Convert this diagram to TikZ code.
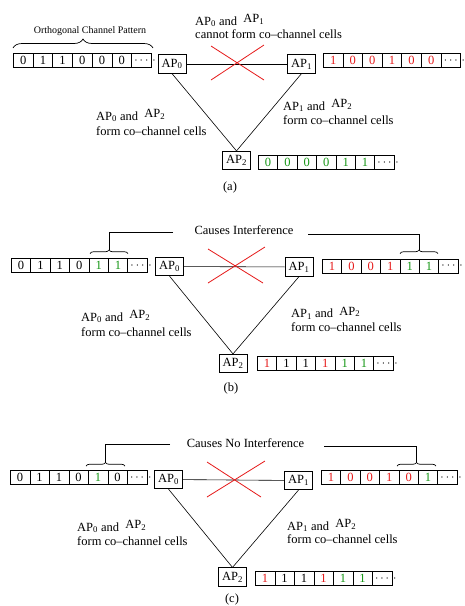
\documentclass[tikz,border=0pt]{standalone}
\usepackage{fontspec}
\setmainfont{Liberation Serif}
\usetikzlibrary{decorations.pathreplacing}
\definecolor{cred}{RGB}{230,25,25}
\definecolor{cgreen}{RGB}{20,150,20}
% name, x0, y centre, cell width, list colour/digit
\newcommand\cellrow[5]{%
  \foreach \cc/\dd [count=\ii from 0] in {#5} {
    \node[cell, minimum width=#4pt, text=\cc] (#1-\ii) at ({#2+\ii*#4}, #3) {\dd};
  }
  \node[cell, minimum width=#4pt] (#1-6) at ({#2+6*#4}, #3) {$\cdots$};
  \node[anchor=west, inner sep=0.6pt] (#1-t) at (#1-6.east) {$\cdot$};
}
\newcommand\apx[1]{AP\textsubscript{#1}}
\begin{document}
\begin{tikzpicture}[x=1pt,y=-1pt,
  every node/.style={font=\fontsize{12.5}{14}\selectfont},
  cell/.style={draw, line width=0.7pt, minimum height=14pt, inner sep=0pt, anchor=west},
  ap/.style={draw, line width=0.7pt, minimum width=28pt, minimum height=18.5pt, inner sep=1pt},
  lbl/.style={anchor=base west, inner sep=0pt},
  captxt/.style={anchor=base, inner sep=0pt},
  link/.style={line width=0.6pt},
  cross/.style={cred, line width=0.8pt},
  br/.style={decorate, decoration={brace, amplitude=#1}, line width=0.7pt},
  bracket/.style={line width=0.7pt}
]
\fill[white] (0,0) rectangle (464,606);
\useasboundingbox (0,0) rectangle (464,606);

%% ---------------- (a) ----------------
\node[captxt, font=\fontsize{10}{12}\selectfont] (a-ocp) at (90,33) {Orthogonal Channel Pattern};
\draw[br=9pt] (13,48) -- (153,48);
\cellrow{a-r0}{13}{60.5}{19.7}{black/0,black/1,black/1,black/0,black/0,black/0}
\cellrow{a-r1}{323}{60.5}{19.6}{cred/1,cred/0,cred/0,cred/1,cred/0,cred/0}
\cellrow{a-r2}{258}{162.5}{19.4}{cgreen/0,cgreen/0,cgreen/0,cgreen/0,cgreen/1,cgreen/1}
\node[ap] (a-ap0) at (172,64) {\apx{0}};
\node[ap] (a-ap1) at (301.5,64) {\apx{1}};
\node[ap] (a-ap2) at (236.5,160.5) {\apx{2}};
\draw[link] (a-ap0) -- (a-ap1);
\draw[link] (a-ap0.south) -- (a-ap2.north);
\draw[link] (a-ap1.south) -- (a-ap2.north);
\draw[cross] (211,46) -- (264,80) (211,80) -- (264,45);
\node[lbl] (a-t1) at (195,25) {\apx{0} and\hspace{3pt} \raisebox{2.5pt}{\apx{1}}};
\node[lbl] (a-t2) at (195,38.5) {cannot form co--channel cells};
\node[lbl] (a-l1) at (96,120) {\apx{0} and\hspace{3pt} \raisebox{2.5pt}{\apx{2}}};
\node[lbl] (a-l2) at (96,135) {form co--channel cells};
\node[lbl] (a-r1t) at (283,110) {\apx{1} and\hspace{3pt} \raisebox{2.5pt}{\apx{2}}};
\node[lbl] (a-r2t) at (283,124.5) {form co--channel cells};
\node[captxt] (a-cap) at (230,190.5) {(a)};

%% ---------------- (b) ----------------
\node[captxt] (b-txt) at (244,234.5) {Causes Interference};
\cellrow{b-r0}{11}{265.5}{19.4}{black/0,black/1,black/1,black/0,cgreen/1,cgreen/1}
\cellrow{b-r1}{322}{266}{19.4}{cred/1,cred/0,cred/0,cred/1,cgreen/1,cgreen/1}
\cellrow{b-r2}{257}{363.5}{19.4}{cred/1,black/1,black/1,cred/1,cgreen/1,cgreen/1}
\node[ap] (b-ap0) at (169.5,266.5) {\apx{0}};
\node[ap] (b-ap1) at (299,267) {\apx{1}};
\node[ap] (b-ap2) at (233,363.5) {\apx{2}};
\draw[link] (b-ap0) -- (b-ap1);
\draw[link] (b-ap0.south) -- (b-ap2.north);
\draw[link] (b-ap1.south) -- (b-ap2.north);
\draw[cross] (208,249) -- (263,283) (208,283) -- (265,247);
\coordinate (b-hl) at (173,232);
\coordinate (b-bl) at (109,250);
\coordinate (b-hr) at (308,234);
\coordinate (b-br) at (419,250);
\draw[bracket] (b-hl) -| (b-bl);
\draw[bracket] (b-hr) -| (b-br);
\draw[br=3.5pt] (90,253.5) -- (128,253.5);
\draw[br=3.5pt] (400,253.5) -- (438,253.5);
\node[lbl] (b-l1) at (81,321) {\apx{0} and\hspace{3pt} \raisebox{2.5pt}{\apx{2}}};
\node[lbl] (b-l2) at (81,336.5) {form co--channel cells};
\node[lbl] (b-r1t) at (291,317.5) {\apx{1} and\hspace{3pt} \raisebox{2.5pt}{\apx{2}}};
\node[lbl] (b-r2t) at (291,331) {form co--channel cells};
\node[captxt] (b-cap) at (231,391.5) {(b)};

%% ---------------- (c) ----------------
\node[captxt] (c-txt) at (245.5,447.5) {Causes No Interference};
\cellrow{c-r0}{10}{477.5}{19.5}{black/0,black/1,black/1,black/0,cgreen/1,black/0}
\cellrow{c-r1}{321}{477.5}{19.4}{cred/1,cred/0,cred/0,cred/1,cred/0,cgreen/1}
\cellrow{c-r2}{255}{578.5}{19.5}{cred/1,black/1,black/1,cred/1,cgreen/1,cgreen/1}
\node[ap] (c-ap0) at (168.5,479.5) {\apx{0}};
\node[ap] (c-ap1) at (298.5,480.5) {\apx{1}};
\node[ap] (c-ap2) at (232.5,577) {\apx{2}};
\draw[link] (c-ap0) -- (c-ap1);
\draw[link] (c-ap0.south) -- (c-ap2.north);
\draw[link] (c-ap1.south) -- (c-ap2.north);
\draw[cross] (207,462) -- (261,497) (207,497) -- (265,461);
\coordinate (c-hl) at (170,444);
\coordinate (c-bl) at (105.5,462.5);
\coordinate (c-hr) at (324,446);
\coordinate (c-br) at (416.5,462.5);
\draw[bracket] (c-hl) -| (c-bl);
\draw[bracket] (c-hr) -| (c-br);
\draw[br=3.5pt] (86,466) -- (125,466);
\draw[br=3.5pt] (397,466) -- (436,466);
\node[lbl] (c-l1) at (77,531) {\apx{0} and\hspace{3pt} \raisebox{2.5pt}{\apx{2}}};
\node[lbl] (c-l2) at (77,545) {form co--channel cells};
\node[lbl] (c-r1t) at (287,530) {\apx{1} and\hspace{3pt} \raisebox{2.5pt}{\apx{2}}};
\node[lbl] (c-r2t) at (287,543.5) {form co--channel cells};
\node[captxt] (c-cap) at (232,602.5) {(c)};
\end{tikzpicture}
\end{document}
